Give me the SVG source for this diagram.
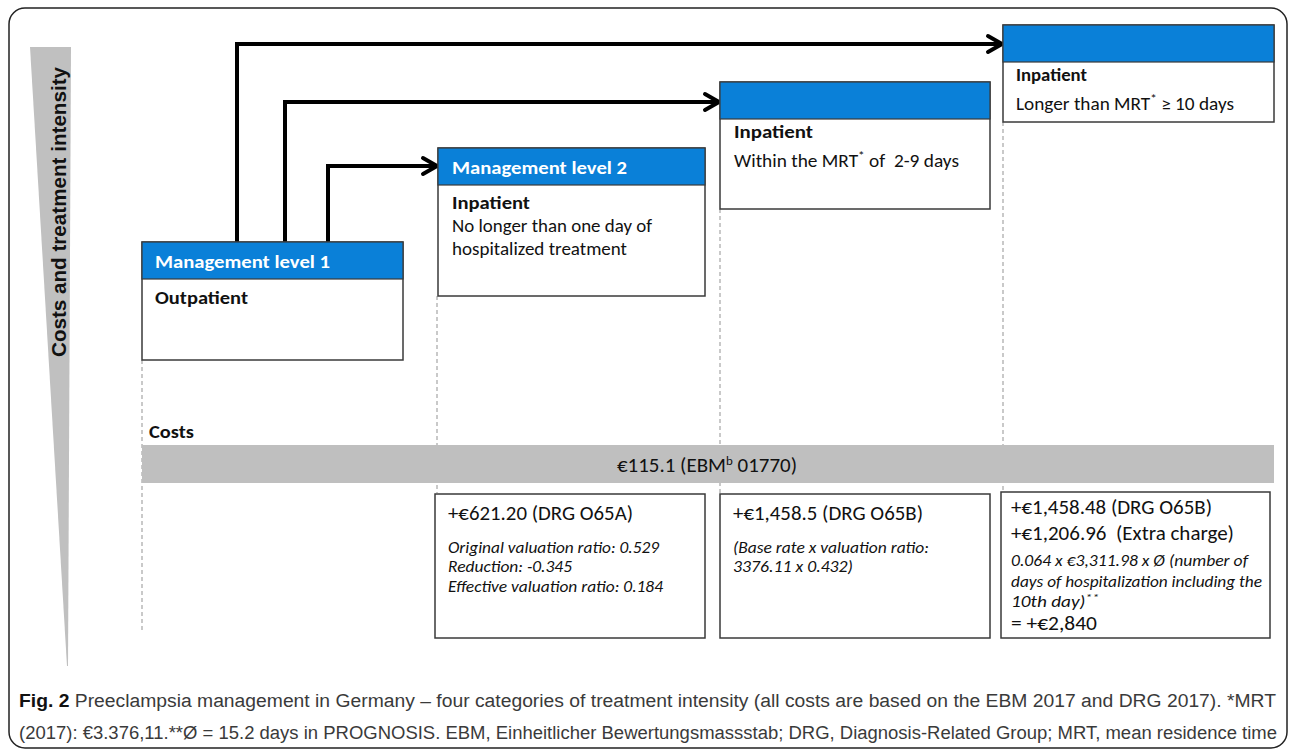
<svg xmlns="http://www.w3.org/2000/svg" width="1292" height="755" viewBox="0 0 1292 755">
<style>
.frame{fill:#fff;stroke:#222;stroke-width:1.5}
.box{fill:#fff;stroke:#3a3a3a;stroke-width:1.5}
.hdr{fill:#0a80d8;stroke:#3a3a3a;stroke-width:1.2}
.dash{stroke:#a6a6a6;stroke-width:1.2;stroke-dasharray:4 3;fill:none}
.conn{fill:none;stroke:#000;stroke-width:4;stroke-linejoin:miter}
.h{font-family:Carlito,Lato,"Open Sans",sans-serif;font-weight:bold;font-size:19px;fill:#fff}
.b{font-family:Carlito,Lato,"Open Sans",sans-serif;font-weight:bold;font-size:18px;fill:#111}
.t{font-family:Carlito,Lato,"Open Sans",sans-serif;font-size:17.5px;fill:#111}
.c{font-family:Carlito,Lato,"Open Sans",sans-serif;font-size:19.5px;fill:#111}
.i{font-family:Carlito,Lato,"Open Sans",sans-serif;font-style:italic;font-size:15.5px;fill:#111}
.cap{font-family:"Liberation Sans",Arial,sans-serif;font-size:18px;fill:#3a3a3a}
</style>
<defs>
<marker id="arr" markerUnits="userSpaceOnUse" markerWidth="22" markerHeight="22" viewBox="0 0 22 22" refX="17" refY="11" orient="auto">
<path d="M3,3 L17,11 L3,19" fill="none" stroke="#000" stroke-width="4" stroke-linejoin="round" stroke-linecap="round"/>
</marker>
</defs>
<rect class="frame" x="9" y="8" width="1278" height="740" rx="16"/>
<g id="axis">
<polygon points="30,47 71,47 68,666 67,666" fill="#c0c0c0"/>
<text transform="translate(66,357) rotate(-90)" font-family="'Liberation Sans',Arial,sans-serif" font-weight="bold" font-size="20.6" fill="#111" textLength="290" lengthAdjust="spacingAndGlyphs">Costs and treatment intensity</text>
</g>
<g id="guides">
<line class="dash" x1="142" y1="360" x2="142" y2="630"/>
<line class="dash" x1="437" y1="296" x2="437" y2="493"/>
<line class="dash" x1="720" y1="209" x2="720" y2="493"/>
<line class="dash" x1="1003" y1="122" x2="1003" y2="492"/>
</g>
<g id="connectors">
<path class="conn" d="M237,242 V44 H1002" marker-end="url(#arr)"/>
<path class="conn" d="M285,242 V102 H719" marker-end="url(#arr)"/>
<path class="conn" d="M328,242 V166 H437" marker-end="url(#arr)"/>
</g>
<g id="level1">
<rect class="box" x="142" y="242" width="261" height="118"/>
<rect class="hdr" x="142" y="242" width="261" height="37"/>
<text class="h" x="155" y="268" textLength="175" lengthAdjust="spacingAndGlyphs">Management level 1</text>
<text class="b" x="155" y="304" textLength="93" lengthAdjust="spacingAndGlyphs">Outpatient</text>
</g>
<g id="level2">
<rect class="box" x="438" y="148" width="267" height="148"/>
<rect class="hdr" x="438" y="148" width="267" height="37"/>
<text class="h" x="452" y="174" textLength="175" lengthAdjust="spacingAndGlyphs">Management level 2</text>
<text class="b" x="452" y="209" textLength="78" lengthAdjust="spacingAndGlyphs">Inpatient</text>
<text class="t" x="452" y="232" textLength="200" lengthAdjust="spacingAndGlyphs">No longer than one day of</text>
<text class="t" x="452" y="255" textLength="175" lengthAdjust="spacingAndGlyphs">hospitalized treatment</text>
</g>
<g id="level3">
<rect class="box" x="720" y="82" width="270" height="127"/>
<rect class="hdr" x="720" y="82" width="270" height="37"/>
<text class="b" x="734" y="138" textLength="79" lengthAdjust="spacingAndGlyphs">Inpatient</text>
<text class="t" x="734" y="167" xml:space="preserve" style="white-space:pre" textLength="225" lengthAdjust="spacingAndGlyphs">Within the MRT<tspan font-size="12" dy="-7">*</tspan><tspan dy="7"> of  2-9 days</tspan></text>
</g>
<g id="level4">
<rect class="box" x="1003" y="25" width="271" height="97"/>
<rect class="hdr" x="1003" y="25" width="271" height="37"/>
<text class="b" x="1016" y="81" font-size="16.5" textLength="71" lengthAdjust="spacingAndGlyphs">Inpatient</text>
<text class="t" x="1016" y="110" textLength="218" lengthAdjust="spacingAndGlyphs">Longer than MRT<tspan font-size="12" dy="-7">*</tspan><tspan dy="7"> ≥ 10 days</tspan></text>
</g>
<g id="costs">
<text class="b" x="149" y="438" font-size="17" textLength="45" lengthAdjust="spacingAndGlyphs">Costs</text>
<rect x="142" y="445" width="1132" height="38" fill="#bfbfbf"/>
<text class="c" x="617" y="472" fill="#222" textLength="180" lengthAdjust="spacingAndGlyphs">€115.1 (EBM<tspan font-size="12" dy="-7">b</tspan><tspan dy="7"> 01770)</tspan></text>
</g>
<g id="costA">
<rect class="box" x="435" y="494" width="270" height="144"/>
<text class="c" x="448" y="520" textLength="185" lengthAdjust="spacingAndGlyphs">+€621.20 (DRG O65A)</text>
<text class="i" x="448" y="553" textLength="211" lengthAdjust="spacingAndGlyphs">Original valuation ratio: 0.529</text>
<text class="i" x="448" y="572" textLength="124" lengthAdjust="spacingAndGlyphs">Reduction: -0.345</text>
<text class="i" x="448" y="592" textLength="215" lengthAdjust="spacingAndGlyphs">Effective valuation ratio: 0.184</text>
</g>
<g id="costB">
<rect class="box" x="720" y="494" width="270" height="144"/>
<text class="c" x="733" y="520" textLength="190" lengthAdjust="spacingAndGlyphs">+€1,458.5 (DRG O65B)</text>
<text class="i" x="733" y="553" textLength="196" lengthAdjust="spacingAndGlyphs">(Base rate x valuation ratio:</text>
<text class="i" x="733" y="572" textLength="120" lengthAdjust="spacingAndGlyphs">3376.11 x 0.432)</text>
</g>
<g id="costC">
<rect class="box" x="1001" y="492" width="269" height="146"/>
<text class="c" x="1011" y="514" textLength="201" lengthAdjust="spacingAndGlyphs">+€1,458.48 (DRG O65B)</text>
<text class="c" x="1011" y="540" xml:space="preserve" style="white-space:pre" textLength="223" lengthAdjust="spacingAndGlyphs">+€1,206.96  (Extra charge)</text>
<text class="i" x="1011" y="566" textLength="237" lengthAdjust="spacingAndGlyphs">0.064 x €3,311.98 x Ø (number of</text>
<text class="i" x="1011" y="587" textLength="251" lengthAdjust="spacingAndGlyphs">days of hospitalization including the</text>
<text class="i" x="1011" y="607" textLength="88" lengthAdjust="spacingAndGlyphs">10th day)<tspan font-size="11" dy="-6">**</tspan></text>
<text class="c" x="1011" y="630" font-size="18.5" textLength="86" lengthAdjust="spacingAndGlyphs">= +€2,840</text>
</g>
<g id="caption">
<text class="cap" x="19" y="707" textLength="1257" lengthAdjust="spacingAndGlyphs"><tspan font-weight="bold" fill="#111">Fig. 2</tspan> Preeclampsia management in Germany – four categories of treatment intensity (all costs are based on the EBM 2017 and DRG 2017). *MRT</text>
<text class="cap" x="19" y="739" textLength="1258" lengthAdjust="spacingAndGlyphs">(2017): €3.376,11.**Ø = 15.2 days in PROGNOSIS. EBM, Einheitlicher Bewertungsmassstab; DRG, Diagnosis-Related Group; MRT, mean residence time</text>
</g>
</svg>
